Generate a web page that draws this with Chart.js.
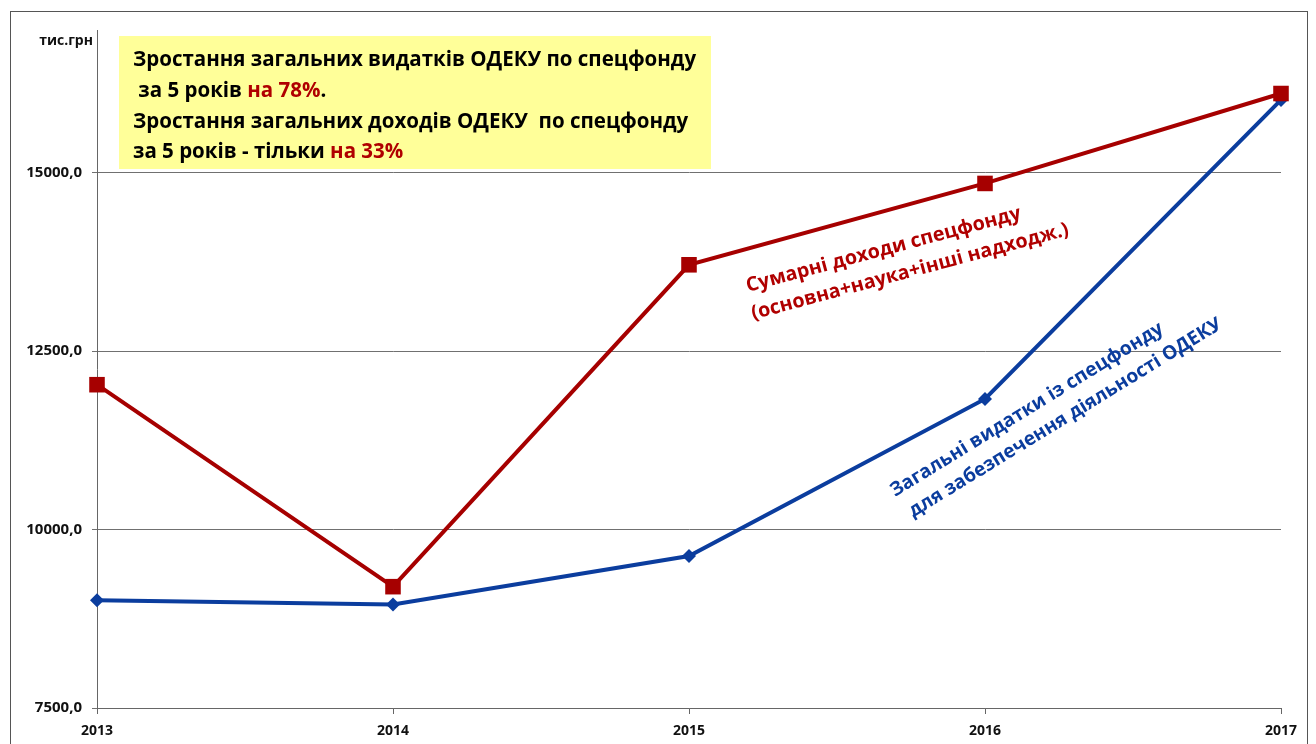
<!DOCTYPE html>
<html>
<head>
<meta charset="utf-8">
<script src="https://cdn.jsdelivr.net/npm/chart.js@4.4.0/dist/chart.umd.min.js"></script>
<style>
    html, body { margin: 0; padding: 0; background: #fff; }
    #wrap { width: 1316px; height: 744px; }
</style>
</head>
<body>
<div id="wrap"><canvas id="chart" width="1316" height="744"></canvas></div>
<script>
// Chart data (тис.грн)
const years = ['2013', '2014', '2015', '2016', '2017'];
const incomeTotal = [12030, 9200, 13710, 14850, 16110];
const expensesTotal = [9010, 8950, 9630, 11830, 16020];
const yTickValues = [7500, 10000, 12500, 15000];
const yMin = 7500;
const yMax = 17000;

const RED = '#A60000';
const BLUE = '#0B3D9E';
const TEXT_RED = '#B00000';
const FONT = '"Open Sans", "Noto Sans", sans-serif';

// Text of the yellow note: [text, colour] segments per line
const noteLines = [
    [['Зростання загальних видатків ОДЕКУ по спецфонду', '#000']],
    [[' за 5 років ', '#000'], ['на 78%', TEXT_RED], ['.', '#000']],
    [['Зростання загальних доходів ОДЕКУ  по спецфонду', '#000']],
    [['за 5 років - тільки ', '#000'], ['на 33%', TEXT_RED]]
];
const incomeNote = ['Сумарні доходи спецфонду', '(основна+наука+інші надходж.)'];
const expensesNote = ['Загальні видатки із спецфонду', 'для забезпечення діяльності ОДЕКУ'];

// Font size that makes text a given width
function fitSize(ctx, text, width) {
    ctx.font = 'bold 100px ' + FONT;
    return 100 * width / ctx.measureText(text).width;
}

// Draw rotated two-line label
function drawRotated(ctx, lines, x, y, angle, width, color, lineGap, indent) {
    const size = fitSize(ctx, lines[0], width);
    ctx.save();
    ctx.translate(x, y);
    ctx.rotate(-angle * Math.PI / 180);
    ctx.font = 'bold ' + size.toFixed(1) + 'px ' + FONT;
    ctx.fillStyle = color;
    ctx.textAlign = 'left';
    ctx.textBaseline = 'alphabetic';
    ctx.fillText(lines[0], 0, 0);
    ctx.fillText(lines[1], indent, lineGap);
    ctx.restore();
}

const decorPlugin = {
    id: 'decor',
    beforeDraw(chart) {
        const ctx = chart.ctx;
        ctx.save();
        ctx.fillStyle = '#fff';
        ctx.fillRect(0, 0, chart.width, chart.height);
        ctx.strokeStyle = '#555';
        ctx.lineWidth = 1;
        ctx.strokeRect(10.5, 11.5, 1297, 745);
        ctx.restore();
    },
    beforeDatasetsDraw(chart) {
        const ctx = chart.ctx;
        ctx.save();
        // yellow note box
        ctx.fillStyle = '#FFFF99';
        ctx.fillRect(119, 36, 592, 133);
        const size = fitSize(ctx, noteLines[0][0][0], 564);
        ctx.font = 'bold ' + size.toFixed(1) + 'px ' + FONT;
        ctx.textBaseline = 'alphabetic';
        ctx.textAlign = 'left';
        const baselines = [66, 97, 128, 158];
        noteLines.forEach((segs, i) => {
            let x = 133;
            segs.forEach(([txt, col]) => {
                ctx.fillStyle = col;
                ctx.fillText(txt, x, baselines[i]);
                x += ctx.measureText(txt).width;
            });
        });
        ctx.restore();
    },
    afterDraw(chart) {
        const ctx = chart.ctx;
        ctx.save();
        // unit label
        ctx.font = 'bold 14px ' + FONT;
        ctx.fillStyle = '#111';
        ctx.textAlign = 'right';
        ctx.textBaseline = 'middle';
        ctx.fillText('тис.грн', 93, 41);
        ctx.restore();
        drawRotated(ctx, incomeNote, 748, 292, 15, 284, TEXT_RED, 28, -2);
        drawRotated(ctx, expensesNote, 895, 497, 31.5, 316, BLUE, 27, 5);
    }
};

const ctx = document.getElementById('chart').getContext('2d');
const chart = new Chart(ctx, {
    type: 'line',
    data: {
        labels: years,
        datasets: [
            {
                label: 'Сумарні доходи спецфонду',
                data: incomeTotal,
                borderColor: RED,
                backgroundColor: RED,
                borderWidth: 4,
                pointStyle: 'rect',
                pointRadius: 11,
                pointBorderWidth: 0,
                tension: 0,
                clip: false
            },
            {
                label: 'Загальні видатки із спецфонду',
                data: expensesTotal,
                borderColor: BLUE,
                backgroundColor: BLUE,
                borderWidth: 4,
                pointStyle: 'rectRot',
                pointRadius: 7,
                pointBorderWidth: 0,
                tension: 0,
                clip: false
            }
        ]
    },
    options: {
        responsive: false,
        animation: false,
        devicePixelRatio: 1,
        layout: { padding: { left: 0, right: 35, top: 30, bottom: 0 } },
        plugins: {
            legend: { display: false },
            tooltip: { enabled: false }
        },
        scales: {
            x: {
                offset: false,
                afterFit: (scale) => { scale.height = 36; },
                grid: {
                    drawOnChartArea: false,
                    drawTicks: true,
                    tickLength: 6,
                    color: '#666'
                },
                border: { color: '#666', width: 1 },
                ticks: {
                    color: '#111',
                    padding: 9,
                    maxRotation: 0,
                    font: { family: FONT, size: 14, weight: 'bold' }
                }
            },
            y: {
                min: yMin,
                max: yMax,
                afterFit: (scale) => { scale.width = 97; },
                afterBuildTicks: (scale) => {
                    scale.ticks = yTickValues.map(v => ({ value: v }));
                },
                grid: {
                    color: '#707070',
                    lineWidth: 1,
                    drawTicks: true,
                    tickLength: 5
                },
                border: { color: '#666', width: 1 },
                ticks: {
                    color: '#111',
                    padding: 10,
                    font: { family: FONT, size: 15, weight: 'bold' },
                    callback: (v) => Number(v).toFixed(1).replace('.', ',')
                }
            }
        }
    },
    plugins: [decorPlugin]
});
</script>
</body>
</html>
